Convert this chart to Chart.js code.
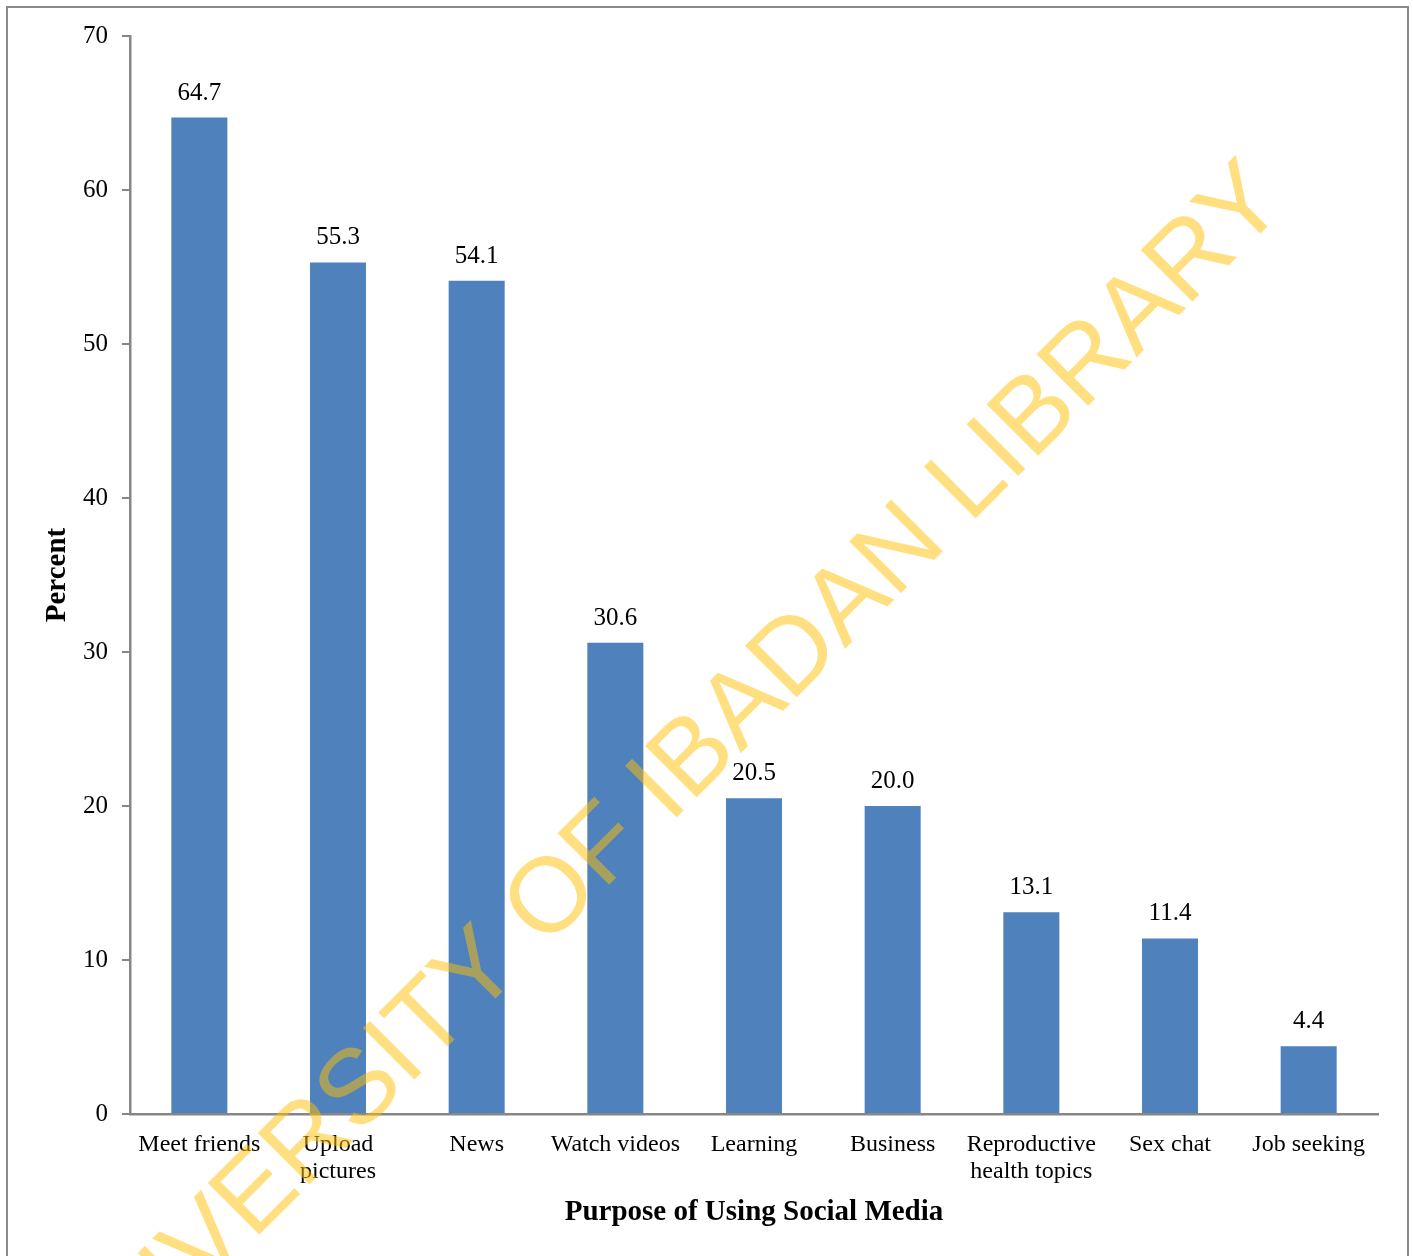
<!DOCTYPE html>
<html>
<head>
<meta charset="utf-8">
<script src="https://cdn.jsdelivr.net/npm/chart.js@4.4.1/dist/chart.umd.min.js"></script>
<style>
  html, body { margin: 0; padding: 0; background: #fff; }
  #wrap { width: 1413px; height: 1256px; position: relative; }
</style>
</head>
<body>
<div id="wrap"><canvas id="chart" width="1413" height="1256"></canvas></div>
<script>
// chart data
const categories = ['Meet friends', ['Upload', 'pictures'], 'News', 'Watch videos', 'Learning',
  'Business', ['Reproductive', 'health topics'], 'Sex chat', 'Job seeking'];
const percentValues = [64.7, 55.3, 54.1, 30.6, 20.5, 20.0, 13.1, 11.4, 4.4];
const yTicks = [0, 10, 20, 30, 40, 50, 60, 70];
const xTitle = 'Purpose of Using Social Media';
const yTitle = 'Percent';
const watermark = 'UNIVERSITY OF IBADAN LIBRARY';

const axisGray = '#868686';
const serif = '"Liberation Serif", "Times New Roman", serif';

// outer frame + value labels + watermark
const extras = {
  id: 'extras',
  beforeDraw(chart) {
    const ctx = chart.ctx;
    ctx.save();
    ctx.fillStyle = '#fff';
    ctx.fillRect(0, 0, chart.width, chart.height);
    ctx.strokeStyle = '#8a8a8a';
    ctx.lineWidth = 2;
    ctx.strokeRect(7, 7, 1401, 1270);
    ctx.restore();
  },
  afterDatasetsDraw(chart) {
    const ctx = chart.ctx;
    const meta = chart.getDatasetMeta(0);
    ctx.save();
    ctx.font = '25px ' + serif;
    ctx.fillStyle = '#000';
    ctx.textAlign = 'center';
    ctx.textBaseline = 'alphabetic';
    meta.data.forEach((bar, i) => {
      ctx.fillText(percentValues[i].toFixed(1), bar.x, bar.y - 18);
    });
    ctx.restore();
  },
  afterDraw(chart) {
    const ctx = chart.ctx;
    ctx.save();
    ctx.translate(1289, 205);
    ctx.rotate(-Math.PI / 4);
    ctx.font = '106px "Liberation Sans", Arial, sans-serif';
    ctx.fillStyle = 'rgba(255, 192, 0, 0.5)';
    ctx.textAlign = 'right';
    ctx.textBaseline = 'alphabetic';
    ctx.fillText(watermark, 0, 0);
    ctx.restore();
  }
};

new Chart(document.getElementById('chart'), {
  type: 'bar',
  data: {
    labels: categories,
    datasets: [{
      data: percentValues,
      backgroundColor: '#4F81BD',
      borderWidth: 0,
      categoryPercentage: 1.0,
      barPercentage: 0.404
    }]
  },
  options: {
    responsive: false,
    animation: false,
    layout: { padding: { top: 36, right: 35, left: 0, bottom: 0 } },
    plugins: {
      legend: { display: false },
      tooltip: { enabled: false }
    },
    scales: {
      x: {
        grid: { display: false },
        border: { display: true, color: axisGray, width: 2.5 },
        ticks: {
          color: '#000',
          font: { family: serif, size: 24, lineHeight: 1.13 },
          padding: 9,
          maxRotation: 0,
          autoSkip: false
        },
        title: {
          display: true,
          text: xTitle,
          color: '#000',
          font: { family: serif, size: 29, weight: 'bold' },
          padding: { top: 0, bottom: 26 }
        },
        afterFit(scale) { scale.height = 142; }
      },
      y: {
        min: 0,
        max: 70,
        afterBuildTicks(scale) { scale.ticks = yTicks.map(v => ({ value: v })); },
        grid: { drawOnChartArea: false, drawTicks: true, tickLength: 8, color: axisGray, lineWidth: 2 },
        border: { display: true, color: axisGray, width: 2.5 },
        ticks: {
          color: '#000',
          font: { family: serif, size: 25 },
          padding: 14
        },
        title: {
          display: true,
          text: yTitle,
          color: '#000',
          font: { family: serif, size: 29, weight: 'bold' },
          padding: { top: 40, bottom: 0 }
        },
        afterFit(scale) { scale.width = 130; }
      }
    }
  },
  plugins: [extras]
});
</script>
</body>
</html>
